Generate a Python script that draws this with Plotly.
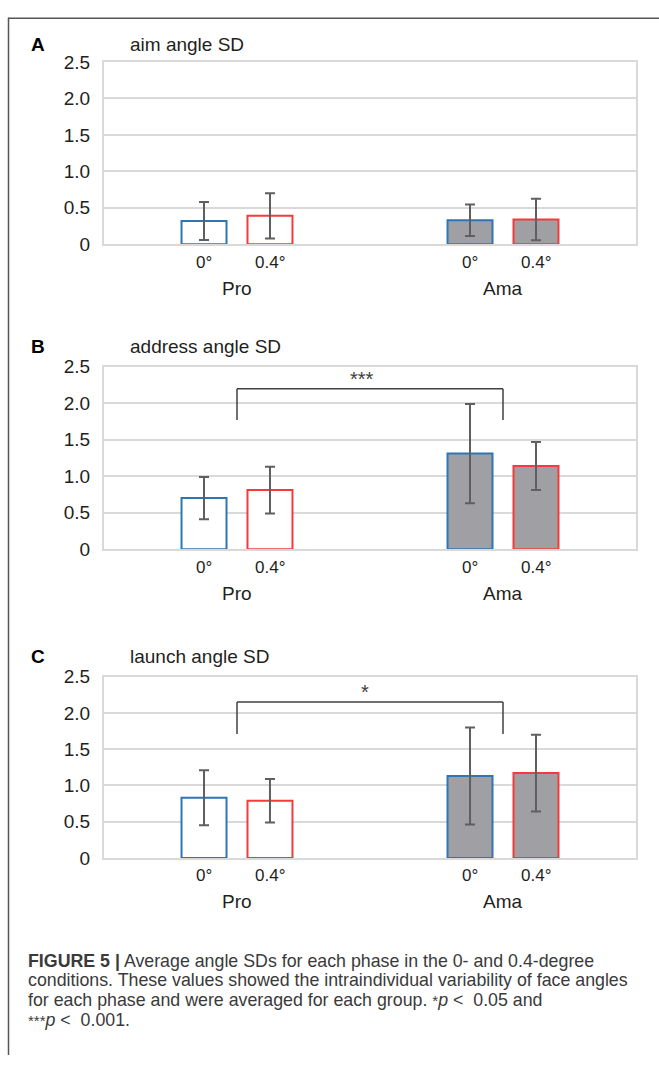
import plotly.graph_objects as go

# ---- data -------------------------------------------------------------
groups = ["Pro", "Ama"]
conditions = ["0°", "0.4°"]
panel_letters = ["A", "B", "C"]
panel_titles = ["aim angle SD", "address angle SD", "launch angle SD"]

aim_mean_0 = [0.32, 0.33]
aim_sd_0 = [0.26, 0.215]
aim_mean_04 = [0.39, 0.34]
aim_sd_04 = [0.31, 0.285]

address_mean_0 = [0.70, 1.31]
address_sd_0 = [0.29, 0.68]
address_mean_04 = [0.81, 1.14]
address_sd_04 = [0.32, 0.33]

launch_mean_0 = [0.83, 1.13]
launch_sd_0 = [0.38, 0.67]
launch_mean_04 = [0.79, 1.17]
launch_sd_04 = [0.30, 0.53]

significance = [None, "***", "*"]

y_ticks = [0, 0.5, 1.0, 1.5, 2.0, 2.5]
y_tick_labels = ["0", "0.5", "1.0", "1.5", "2.0", "2.5"]

STAR = "<span style='font-size:15px'>{}</span>"
caption_lines = [
    "<b>FIGURE 5 |</b> Average angle SDs for each phase in the 0- and 0.4-degree",
    "conditions. These values showed the intraindividual variability of face angles",
    "for each phase and were averaged for each group. " + STAR.format("*")
    + "<i>p</i>&nbsp;&lt;&nbsp; 0.05 and",
    STAR.format("***") + "<i>p</i>&nbsp;&lt;&nbsp; 0.001.",
]

# ---- styling / layout -------------------------------------------------
W, H = 659, 1066
FONT = "Liberation Sans, Arial, sans-serif"
TEXT = "#231f20"
GRID = "#d9d9d9"
ERR = "#5f5f5f"
EDGE = ["#2e75b6", "#f43a3a"]          # outline per condition
FILL = ["#ffffff", "#a0a0a4"]          # fill per group
PLOT_LEFT, PLOT_RIGHT = 104, 636
PANEL_PX = [(53, 239), (364, 550), (680, 865)]   # (top, bottom) of each plot area
TITLE_PX = [35, 343, 660]
BRACKETS = [None, (1.77, 2.20, 0.47, 2.33), (1.71, 2.15, 0.48, 2.29)]
CAPTION_Y = [970, 990, 1010, 1030]

BARGAP, GROUPGAP = 0.504, 0.318
slot = (1 - BARGAP) / 2                 # width of one bar slot in a group
cond_offsets = [-slot / 2, slot / 2]

panels = [
    ((aim_mean_0, aim_sd_0), (aim_mean_04, aim_sd_04)),
    ((address_mean_0, address_sd_0), (address_mean_04, address_sd_04)),
    ((launch_mean_0, launch_sd_0), (launch_mean_04, launch_sd_04)),
]


def px_x(x):
    return x / W


def px_y(y):
    return 1 - y / H


fig = go.Figure()
layout = dict(
    width=W, height=H, autosize=False,
    margin=dict(l=0, r=0, t=0, b=0),
    paper_bgcolor="white", plot_bgcolor="white",
    barmode="group", bargap=BARGAP, bargroupgap=GROUPGAP,
    showlegend=False,
    font=dict(family=FONT, color=TEXT, size=17),
)
annotations = []
shapes = []

for p, series in enumerate(panels):
    suffix = "" if p == 0 else str(p + 1)
    xref, yref = "x" + suffix, "y" + suffix
    top, bot = PANEL_PX[p]

    for c, (means, sds) in enumerate(series):
        fig.add_trace(go.Bar(
            x=list(range(len(groups))), y=means,
            name=conditions[c],
            marker=dict(color=FILL, line=dict(color=EDGE[c], width=2)),
            error_y=dict(type="data", array=sds, color=ERR, thickness=2, width=5),
            xaxis=xref, yaxis=yref,
        ))

    layout["xaxis" + suffix] = dict(
        domain=[px_x(PLOT_LEFT), px_x(PLOT_RIGHT)], range=[-0.5, 1.5],
        showgrid=False, zeroline=False, showticklabels=False,
        showline=True, mirror=True, linecolor=GRID, linewidth=2,
        anchor=yref, fixedrange=True,
    )
    layout["yaxis" + suffix] = dict(
        domain=[px_y(bot), px_y(top)], range=[0, 2.5],
        tickvals=y_ticks, ticktext=y_tick_labels,
        showgrid=True, gridcolor=GRID, gridwidth=2, zeroline=False,
        showline=True, mirror=True, linecolor=GRID, linewidth=2,
        ticks="", ticklabelstandoff=8,
        tickfont=dict(size=19, color=TEXT, family=FONT),
        anchor=xref, fixedrange=True,
    )

    # panel letter and title
    annotations.append(dict(
        x=px_x(38), y=px_y(TITLE_PX[p]), xref="paper", yref="paper",
        text="<b>" + panel_letters[p] + "</b>", showarrow=False,
        xanchor="center", yanchor="middle", font=dict(size=19, color="#000")))
    annotations.append(dict(
        x=px_x(128), y=px_y(TITLE_PX[p]), xref="paper", yref="paper",
        text=panel_titles[p], showarrow=False,
        xanchor="left", yanchor="middle", font=dict(size=19, color=TEXT)))

    # category labels under the bars and group labels below them
    for g, gname in enumerate(groups):
        for c, cname in enumerate(conditions):
            annotations.append(dict(
                x=g + cond_offsets[c], y=0, xref=xref, yref=yref,
                text=cname, showarrow=False, yshift=-18,
                xanchor="center", yanchor="middle", font=dict(size=17)))
        annotations.append(dict(
            x=g, y=0, xref=xref, yref=yref, text=gname, showarrow=False,
            yshift=-44, xanchor="center", yanchor="middle", font=dict(size=19)))

    # significance bracket between the group centres
    if significance[p]:
        leg, level, sx, sy = BRACKETS[p]
        for x0, y0, x1, y1 in [(0, leg, 0, level), (0, level, 1, level), (1, level, 1, leg)]:
            shapes.append(dict(type="line", xref=xref, yref=yref,
                               x0=x0, y0=y0, x1=x1, y1=y1,
                               line=dict(color="#404040", width=1.5)))
        annotations.append(dict(
            x=sx, y=sy, xref=xref, yref=yref, text=significance[p],
            showarrow=False, xanchor="center", yanchor="middle",
            font=dict(size=20, color="#404040")))

# caption
for i, line in enumerate(caption_lines):
    annotations.append(dict(
        x=px_x(26), y=px_y(CAPTION_Y[i]), xref="paper", yref="paper",
        text=line, showarrow=False, xanchor="left", yanchor="middle",
        font=dict(size=17.8, color="#3a3a3a")))

# frame around the figure (top and left edges)
shapes.append(dict(type="line", xref="paper", yref="paper",
                   x0=px_x(8), y0=px_y(8.5), x1=1, y1=px_y(8.5),
                   line=dict(color="#555555", width=1.5)))
shapes.append(dict(type="line", xref="paper", yref="paper",
                   x0=px_x(8.5), y0=px_y(8), x1=px_x(8.5), y1=0,
                   line=dict(color="#555555", width=1.5)))

layout["annotations"] = annotations
layout["shapes"] = shapes
fig.update_layout(**layout)
fig.write_html("out.html")
